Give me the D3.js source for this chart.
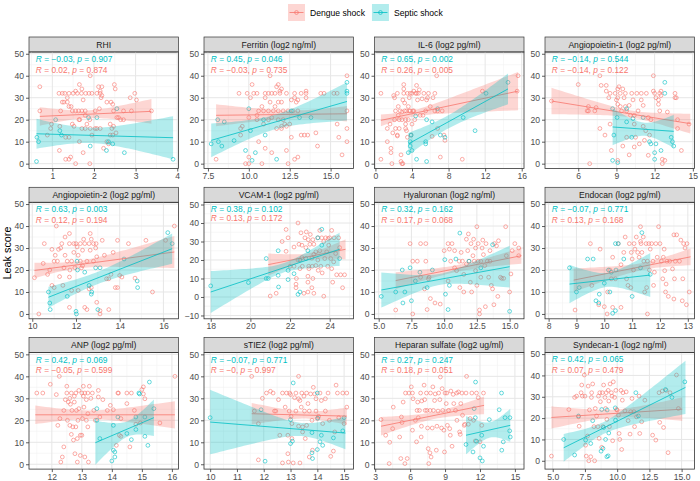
<!DOCTYPE html>
<html>
<head>
<meta charset="utf-8">
<script src="https://cdn.jsdelivr.net/npm/d3@7"></script>
<style>
  body { margin: 0; background: #fff; }
  text { font-family: "Liberation Sans", Arial, Helvetica, sans-serif; }
</style>
</head>
<body>
<div id="chart"></div>
<script>
// ---- panel labels, axes, stats ----
const titles = ['RHI', 'Ferritin (log2 ng/ml)', 'IL-6 (log2 pg/ml)', 'Angiopoietin-1 (log2 pg/ml)',
  'Angiopoietin-2 (log2 pg/ml)', 'VCAM-1 (log2 pg/ml)', 'Hyaluronan (log2 ng/ml)', 'Endocan (log2 pg/ml)',
  'ANP (log2 pg/ml)', 'sTIE2 (log2 pg/ml)', 'Heparan sulfate (log2 ug/ml)', 'Syndecan-1 (log2 ng/ml)'];
const xDomains = [[0.44, 4.03], [7.26, 16.4], [-0.1, 16.25], [3.39, 15.13],
  [9.85, 16.69], [17.66, 25.2], [4.68, 16.1], [7.87, 13.24],
  [11.24, 16.22], [9.77, 15.35], [2.94, 15.78], [4.4, 16.0]];
const yDomains = [[-2.2, 50.8], [-2.2, 50.8], [-2.2, 50.8], [-2.2, 50.8],
  [-2.2, 50.8], [-11.8, 51.2], [-2.2, 50.8], [-2.2, 50.8],
  [-2.2, 50.8], [-2.2, 50.8], [-2.2, 50.8], [-3.9, 50.7]];
const xTicks = [[1, 2, 3, 4], [7.5, 10, 12.5, 15], [0, 4, 8, 12, 16], [6, 9, 12, 15],
  [10, 12, 14, 16], [18, 20, 22, 24], [5, 7.5, 10, 12.5, 15], [8, 9, 10, 11, 12, 13],
  [12, 13, 14, 15, 16], [10, 11, 12, 13, 14, 15], [3, 6, 9, 12, 15], [5, 7.5, 10, 12.5, 15]];
const yTicks = [-10, 0, 10, 20, 30, 40, 50];
const septicStats = [['−0.03', '0.907'], ['0.45', '0.046'], ['0.65', '0.002'], ['−0.14', '0.544'],
  ['0.63', '0.003'], ['0.38', '0.102'], ['0.32', '0.162'], ['−0.07', '0.771'],
  ['0.42', '0.069'], ['−0.07', '0.771'], ['0.27', '0.247'], ['0.42', '0.065']];
const dengueStats = [['0.02', '0.874'], ['−0.03', '0.735'], ['0.26', '0.005'], ['−0.14', '0.122'],
  ['0.12', '0.194'], ['0.13', '0.172'], ['0.17', '0.068'], ['0.13', '0.168'],
  ['−0.05', '0.599'], ['−0', '0.997'], ['0.18', '0.051'], ['0.07', '0.479']];

// regression fits: [x0, y0, x1, y1, halfwidth left, min halfwidth, halfwidth right]
const dengueFits = [[0.7, 21.5, 3.38, 23.8, 4.2, 1.7, 5.6], [8.0, 22.0, 16.0, 22.7, 5, 1.8, 3.5],
  [0.6, 19.7, 15.6, 33.0, 2.7, 1.4, 8.7], [3.9, 28.5, 14.8, 18.2, 6.0, 1.6, 4.5],
  [10.1, 19.8, 16.5, 28.2, 3.5, 1.6, 7.3], [20.9, 17.5, 24.8, 25.8, 6.0, 1.8, 5.4],
  [6.3, 15.2, 15.9, 26.5, 3.8, 1.5, 3.6], [8.9, 15.4, 13.1, 26.0, 5.3, 1.6, 3.8],
  [11.45, 22.5, 16.1, 22.5, 4.2, 2.0, 6.2], [11.55, 23.0, 15.1, 21.9, 4.9, 1.6, 3.9],
  [3.5, 17.3, 12.35, 26.8, 4.2, 1.6, 4.0], [4.9, 20.3, 15.05, 24.2, 5.2, 1.8, 5.5]];
const septicFits = [[0.62, 13.6, 3.9, 11.8, 6.8, 3.5, 9.8], [7.7, 10.6, 16.0, 28.3, 7.7, 3.3, 8.7],
  [3.6, 9.0, 14.5, 34.0, 5.0, 3.0, 7.0], [8.7, 16.7, 13.5, 14.7, 8.3, 3.0, 7.5],
  [10.74, 7.6, 16.4, 29.7, 4.8, 2.8, 6.9], [18.0, 2.7, 24.5, 25.8, 11.3, 2.5, 9.0],
  [5.2, 10.9, 15.0, 21.5, 8.0, 2.5, 9.5], [8.75, 13.6, 11.65, 17.7, 8.7, 3.2, 10],
  [13.45, 9.8, 15.4, 21.2, 10, 3.5, 8.3], [10.0, 19.2, 15.05, 14.2, 14.7, 3.0, 7.4],
  [10.8, 13.2, 14.6, 17.7, 8.7, 3.5, 7.5], [5.85, 6.1, 15.3, 34.4, 6.5, 2.8, 12.5]];

// ---- points [x, leak score] ----
const rhiDengue = [[0.7,35],[0.7,24],[0.88,13],[0.96,16],[0.98,18],[1.17,6],[1.18,17],[1.16,32],[1.24,32],[1.3,32],[1.4,32],[1.5,32],[1.6,32],[1.7,32],[1.8,32],[1.88,32],
  [1.24,28],[1.28,28],[1.36,28],[1.4,26],[1.45,26],[1.2,24],[1.48,24],[1.56,24],[1.63,24],[1.71,24],[1.79,24],[1.36,30],[1.65,36],[1.71,34],[1.56,33],
  [1.64,20],[1.66,20],[1.9,20],[1.79,22],[1.32,12],[1.4,12],[1.32,2],[1.4,2],[1.44,3],[1.56,0],[1.9,0],[1.48,18],[1.83,18],[1.52,17],[1.74,5],[1.65,10],[1.91,40],[1.74,29],
  [1.71,16],[1.79,16],[1.91,16],[2.03,16],[2.07,16],[2.15,16],[2.43,16],[1.95,13],[2.39,13],[2.23,7],[1.95,32],[2.07,32],[2.15,32],[2.11,35],[2.49,36],[2.19,31],[2.15,33],[2.17,30],[2.31,28],[2.41,28],[2.45,27],
  [2.03,24],[2.47,24],[2.71,24],[2.13,25],[2.55,21],[2.59,21],[2.64,20],[2.71,20],[2.39,18],[2.47,17],[2.53,14],[2.31,10],[2.35,9],[2.51,34],[2.19,35],[2.87,30],[2.98,32],[3.02,29],[2.9,24],[3.38,24],[2.45,13]];
const rhiSeptic = [[0.62,1],[0.63,12],[0.67,10],[1.08,20],[1.18,15],[1.22,13],[1.87,21],[1.91,8],[2.07,21],[2.35,10],[2.55,25],[2.3,6],[2.73,5],[3.9,2],[2.45,9]];

const ferritinDengue = [[8.0,2],[9.4,32],[9.5,13],[9.5,16],[9.6,17],[9.8,0],[9.9,32],[10.2,36],[10.1,30],[10.3,32],[10.0,3],[10.8,0],
  [10.5,32],[11.0,32],[11.2,32],[11.4,32],[11.6,32],[11.9,32],[12.3,32],[12.8,32],[13.2,32],[13.5,32],[14.4,32],[14.6,32],
  [10.6,24],[10.9,24],[11.2,24],[11.5,24],[11.8,24],[12.1,24],[12.4,24],[12.7,24],[13.0,24],
  [11.3,28],[11.8,28],[12.0,28],[12.9,28],[11.0,30],[12.8,30],[13.5,30],[11.3,40],[11.8,36],[11.7,35],[12.0,34],[11.9,33],[13.5,33],
  [10.8,26],[11.6,26],[10.5,22],[10.0,21],[11.4,21],[10.5,20],[11.2,20],[11.8,20],[12.1,20],[10.9,18],[12.2,18],[12.5,18],[15.4,18],
  [12.0,17],[12.3,17],[11.7,16],[12.0,16],[16.0,16],[14.1,14],[13.2,13],[13.4,13],[13.6,13],[12.6,12],[15.5,12],[10.6,10],[16.0,10],[14.2,8],[11.0,7],[12.3,6],[11.4,5],[15.7,4],[13.0,3],[12.8,2],[10.0,0],[12.4,0],[16.0,24],[16.0,40],[15.2,32],[15.4,32],[13.0,29],[12.6,29]];
const ferritinSeptic = [[7.7,9],[8.1,20],[8.14,10],[8.35,8],[8.5,19],[9.1,10.5],[9.8,6],[10.0,25],[10.1,15],[10.2,1.5],[10.4,5],[11.0,13],[10.9,20],[11.7,2],[12.6,24],[13.1,21],[13.8,21],[16.0,37],[16.0,32],[16.0,33]];

const il6Dengue = [[0.6,32],[0.6,2],[1.3,16],[1.3,10],[1.6,18],[1.7,5],[1.8,0],[1.9,14],[1.7,7],[2.0,31],[2.1,30],[2.1,20],[2.2,16],[2.4,12.6],[2.4,13],[2.4,32],[2.5,26],[2.5,22],[2.6,20],[2.7,24],[2.8,4],[2.8,1],[2.9,0],[2.9,23.5],
  [3.0,29],[3.1,32],[3.1,36],[3.1,34],[3.2,27.6],[3.2,24],[3.3,18],[3.3,16],[3.3,20],[3.4,15],[3.5,32],[3.5,12],[3.6,26],[3.7,24],[3.7,30],[3.8,32],[3.9,13],[4.0,32],[4.1,24],[4.2,33],[4.3,20],[4.4,32],[4.5,35.6],[4.5,32],[4.6,29],[4.7,32],[4.8,33.6],[4.9,22],
  [5.1,29.5],[5.2,22],[5.3,32],[5.5,24],[5.6,29],[5.7,30],[5.8,32],[6.0,26],[6.2,12.4],[6.3,30],[6.5,32],[6.5,24],[6.7,40],[6.8,24],[6.8,16],[7.1,3],[7.3,24],[7.5,13],[7.6,10.6],[9.5,2],[11.7,33],[15.5,33],[15.6,40],
  [3.0,0],[2.2,24],[2.9,20],[3.6,20],[4.2,24],[2.6,16],[3.4,24],[4.0,18],[3.8,24]];
const il6Septic = [[3.6,5],[3.8,8],[3.8,10],[3.9,13],[4.0,6],[4.4,21.7],[4.5,2],[5.6,1],[5.6,20],[5.5,10],[5.5,9],[6.2,19],[6.8,25],[7.1,13],[7.6,12],[9.6,21],[10.9,15],[12.1,32],[14.5,37]];

const ang1Dengue = [[3.9,28.5],[6.0,36],[6.7,24],[6.8,26],[6.8,24],[6.9,0],[7.3,24],[7.4,25.5],[7.7,16],[7.8,35.6],[8.1,13],[7.7,40],[8.2,35.6],[8.2,33],[8.4,30],[8.5,32],[8.5,18],[8.6,6],[8.9,32],[9.0,29],[9.1,34],[9.1,30],[9.1,27],[9.1,1.5],
  [9.2,35],[9.3,32],[9.3,26],[9.4,24],[9.5,34],[9.5,8],[9.6,30],[9.7,32],[9.7,26],[9.8,12],[9.8,24],[10.0,4],[10.0,26.5],[10.1,22],[10.2,32],[10.3,29],[10.4,22],[10.4,18],[10.4,7.6],[10.6,32],[10.7,24],[10.8,9],[10.95,32],[10.95,29],
  [11.1,26.5],[11.1,17],[11.2,10.6],[11.3,15],[11.35,32],[11.5,21],[11.5,3.8],[11.6,13],[11.7,20],[11.9,40],[11.9,33],[12.0,32],[12.1,30],[12.3,27],[12.3,29],[12.4,24],[12.4,32],[12.5,31],[12.5,33],[12.6,2],[12.6,0],[12.8,1.5],
  [13.0,23.5],[13.6,32],[13.6,30],[13.7,30],[13.8,16],[13.8,20],[14.1,6],[14.7,18],[10.5,12]];
const ang1Septic = [[8.7,25],[8.8,13],[8.7,1.5],[9.05,21],[9.1,0.5],[9.8,25],[9.8,19],[10.2,12],[10.3,20.5],[11.1,21],[11.6,10],[11.7,9],[12.0,5],[12.0,2],[12.1,9],[12.8,37],[12.5,6],[13.3,12],[13.4,10],[13.5,8],[12.8,32]];

const ang2Dengue = [[10.1,16.5],[10.3,0],[10.5,23],[10.55,32],[10.7,18],[10.8,20],[10.9,29.4],[10.9,13],[11.0,12],[11.0,24],[11.05,26.7],[11.1,40],[11.15,24],[11.2,29.4],[11.25,17],[11.3,30],[11.35,32],[11.4,13],[11.45,21],[11.5,26.7],[11.5,35],
  [11.6,24],[11.7,32],[11.7,36.6],[11.7,3],[11.7,16.8],[11.72,20],[11.8,10.7],[11.8,24],[11.9,32],[11.9,28],[11.95,21],[12.0,32],[12.05,30.5],[12.1,10.7],[12.1,26.7],[12.2,32],[12.2,24],[12.25,21],[12.3,22],[12.3,29],[12.35,34],[12.4,32],[12.4,3],[12.5,2],
  [12.5,24],[12.6,11.4],[12.6,32],[12.65,29],[12.65,36.6],[12.7,34],[12.7,12],[12.8,24],[12.8,32],[12.9,30],[12.92,32],[12.95,5.3],[12.95,26],[13.1,1.5],[13.1,0],[13.2,33.5],[13.3,26.7],[13.4,16],[13.5,2],[13.5,16],[13.6,18],[13.7,28],[13.9,33.5],[13.8,12],[13.9,12],
  [14.0,17.5],[14.4,32],[14.7,16.3],[15.2,33.5],[15.5,10],[16.1,33.5],[16.5,40],[14.1,16.8]];
const ang2Septic = [[10.74,10],[10.8,5],[10.82,2],[11.6,8],[12.0,1.2],[12.02,0],[12.05,24],[12.07,20],[12.4,19],[12.6,13],[12.7,9],[12.72,10],[12.9,21],[13.1,21],[13.0,2],[14.2,25],[14.8,15],[14.82,12],[16.2,37],[16.4,32]];

const vcamDengue = [[21.0,0.5],[21.3,2],[21.6,30],[21.8,36.5],[21.8,24.7],[21.9,32],[22.2,16.6],[22.3,5],[22.3,6.9],[22.32,10],[22.4,40],[22.45,28.5],[22.5,15.3],[22.55,34.7],[22.6,28],[22.62,16.6],[22.7,2],[22.75,32],[22.8,26.7],[22.82,35.2],[22.9,11.2],[22.9,2.7],[22.92,31],[22.94,16.6],
  [23.0,28.5],[23.02,33.8],[23.1,21],[23.1,5],[23.12,16.6],[23.15,31],[23.15,10],[23.2,28.5],[23.2,2],[23.3,24.4],[23.3,17],[23.4,20],[23.4,32],[23.42,14.4],[23.5,36],[23.5,25],[23.55,16.6],[23.6,32],[23.62,13],[23.7,0.4],[23.7,30],[23.75,20.8],[23.8,32],[23.85,24.4],
  [23.9,16.6],[23.92,31.6],[23.95,28],[24.0,32],[24.05,20.8],[24.1,15.3],[24.1,36],[24.15,8],[24.2,19],[24.22,32],[24.3,23.5],[24.35,12],[24.45,32],[24.5,26.7],[24.55,12],[24.65,5],[24.75,12],[22.6,21.3],[22.2,27],[22.4,20],[22.95,15.3],[23.2,23],[22.0,16.6],[22.9,8]];
const vcamSeptic = [[18.0,6],[19.9,7.8],[20.8,20.8],[20.8,10],[20.9,10],[21.4,25],[21.4,11.7],[21.42,5.4],[21.9,9.4],[21.9,14.4],[22.2,12.6],[22.4,1.4],[22.5,2.7],[22.5,20],[22.8,20.8],[22.9,25],[23.4,32],[23.6,36.6],[23.6,28],[24.5,20.8]];

const hyalDengue = [[6.3,1.8],[7.4,32],[7.6,24],[7.6,0],[7.95,24],[8.2,16.7],[8.2,32],[8.5,11.4],[8.6,24],[8.6,32],[8.7,2],[8.8,16],[8.85,16.7],[8.95,7],[9.3,5],[9.7,4.5],[10.0,28.8],[10.3,15],[10.3,32],[10.4,29.5],[10.5,24],[10.6,32],[10.8,28.8],[10.8,21],[10.95,19.7],
  [11.15,24],[11.2,12],[11.3,28],[11.4,24],[11.5,10],[11.5,18],[11.7,34],[11.7,22.7],[11.8,28.8],[11.85,36.4],[11.9,24],[12.0,14.4],[12.05,32],[12.1,10],[12.2,26.5],[12.25,34],[12.3,24],[12.4,19.7],[12.4,30],[12.5,13],[12.5,39.7],[12.6,24],[12.6,32],[12.7,1.8],[12.7,0],
  [12.8,24],[12.8,16.7],[12.9,30],[12.95,33.6],[13.0,27],[13.1,22],[13.15,3.3],[13.2,32],[13.3,24],[13.4,16.7],[13.5,24],[13.5,28.8],[13.6,13],[13.7,11.4],[13.8,4.2],[13.85,32],[14.0,31],[14.1,8],[14.15,33.3],[14.3,16.7],[14.4,16.2],[14.55,16.2],[14.7,39.7],[14.75,26.5],[15.0,10],[15.1,18.2],[15.2,28.8],[15.4,32],[15.7,30],[15.7,26.5]];
const hyalSeptic = [[5.2,8],[6.3,10],[6.8,20],[6.85,5],[7.0,10],[7.4,21],[7.5,6],[7.8,15],[8.15,19],[8.7,12],[9.1,20],[10.05,24.7],[10.1,9],[10.3,2],[10.4,13],[10.9,25],[11.2,36.8],[11.9,24],[12.8,21],[13.7,31.5],[15.0,1.2]];

const endoDengue = [[8.95,1.8],[9.5,32],[9.55,13],[9.8,4.2],[9.85,29.5],[10.0,3.3],[10.1,0],[10.12,10],[10.2,20],[10.25,16],[10.3,3],[10.3,25.8],[10.4,16],[10.5,32],[10.6,22.4],[10.6,3],[10.7,28],[10.75,35],[10.8,16],[10.85,13],[10.9,32],[10.95,12],[10.97,28],[11.0,25],[11.05,20],[11.07,32],
  [11.1,29.5],[11.15,35],[11.2,28],[11.25,25.8],[11.3,33],[11.32,32],[11.3,39.7],[11.35,28],[11.4,35],[11.42,24],[11.45,10],[11.5,32],[11.52,12],[11.55,24],[11.55,0],[11.6,32],[11.62,20],[11.65,29.5],[11.7,32],[11.75,24],[11.77,13],[11.8,19],[11.85,32],[11.9,25.8],[11.95,39.7],
  [12.0,32],[12.05,24],[12.1,16],[12.12,25.8],[12.15,29.5],[12.17,19.7],[12.2,10],[12.22,13.6],[12.25,24],[12.3,8],[12.35,24],[12.45,20.5],[12.5,6.8],[12.5,36],[12.52,16],[12.55,24],[12.6,36],[12.7,24],[12.75,33.6],[12.8,6],[12.82,16],[12.85,32],[12.9,30],[12.95,4.2],[12.97,32],[13.05,10]];
const endoSeptic = [[8.75,21],[9.0,10],[9.1,12],[9.4,25],[9.6,25],[9.7,6],[9.8,5],[9.82,9],[10.0,14],[10.15,20],[10.2,10],[10.25,19],[10.3,0.3],[10.4,1.5],[10.42,20],[10.4,32],[10.5,32],[10.7,25],[11.0,8],[11.3,21],[11.35,37],[11.65,18]];

const anpDengue = [[11.5,32.4],[11.7,32.4],[11.95,36.4],[12.15,31.7],[12.2,17.7],[12.25,40],[12.27,20.8],[12.3,1],[12.35,3.3],[12.4,7.9],[12.4,24.5],[12.45,29.4],[12.5,32.4],[12.52,20],[12.5,35.5],[12.55,28.3],[12.6,17.7],[12.6,30],[12.62,27.3],[12.65,13.6],[12.65,32.4],[12.67,24.5],[12.7,17],[12.72,11],
  [12.75,31],[12.75,28.3],[12.77,4.8],[12.8,17],[12.8,32.4],[12.82,24.5],[12.85,11.7],[12.85,1],[12.87,20],[12.9,33.6],[12.9,25.3],[12.95,13.2],[12.95,4],[13.0,13.2],[13.0,32.4],[13.02,20.8],[13.05,31],[13.05,35.5],[13.07,26],[13.1,32.4],[13.1,3.3],[13.15,20],[13.15,29.4],[13.2,17],[13.2,32.4],[13.22,1],[13.2,23],[13.25,35.5],
  [13.3,30],[13.35,32.4],[13.4,24.5],[13.45,20],[13.55,33.6],[13.55,30.6],[13.6,21.5],[13.7,29.4],[13.85,24.5],[13.95,26.8],[14.05,24.8],[14.15,8.6],[14.2,32.4],[14.22,32.4],[14.25,13.2],[14.3,12.7],[14.3,20.8],[14.5,27.6],[14.5,32.4],[14.6,7.9],[14.65,32.4],[14.75,24.5],[14.8,18.2],[14.95,18.8],[15.0,34],[15.05,35.2],[15.05,32],[15.1,29.8],[15.6,18.8],[16.1,40]];
const anpSeptic = [[13.5,25.3],[13.5,20],[13.6,11.7],[14.05,17.7],[14.05,6.4],[14.1,5.6],[14.0,1.5],[14.1,3.3],[14.2,21.5],[14.5,14],[14.8,21.5],[14.9,32.4],[14.92,32],[15.1,21.5],[15.1,12.7],[15.2,8.6],[15.25,37.4],[15.4,25.3],[14.8,15.8],[14.65,11.2]];

const stieDengue = [[11.55,40],[11.65,24.2],[11.8,18.5],[11.8,2],[11.95,30],[12.1,32.4],[12.25,33.2],[12.35,32.4],[12.4,24.2],[12.45,24.2],[12.55,29.4],[12.6,13.2],[12.7,32.4],[12.7,0.6],[12.8,26],[12.85,32.4],[12.9,13.2],[12.9,4.8],[12.92,1],[12.95,24.2],[12.97,32.4],[13.0,31.7],[13.02,21.8],[13.05,11.7],[13.05,18.5],[13.1,0.6],
  [13.15,30.3],[13.2,32.4],[13.2,24.2],[13.3,29.8],[13.3,17.3],[13.3,40],[13.35,0.6],[13.35,29],[13.4,26],[13.42,32.4],[13.45,17],[13.45,14.7],[13.5,31],[13.52,24.2],[13.55,11.7],[13.6,32.4],[13.6,17.7],[13.65,27.6],[13.7,24.2],[13.7,3.3],[13.75,32],[13.8,20],[13.82,6.4],[13.85,35],
  [13.9,32],[13.95,24.2],[13.95,29.8],[14.0,20.8],[14.05,21.8],[14.1,32.4],[14.15,29],[14.2,18.5],[14.3,24.2],[14.3,29.8],[14.4,32.4],[14.45,20],[14.5,3.6],[14.6,6],[14.65,14.7],[14.7,36],[14.75,32.4],[14.8,21.2],[15.0,18.5],[15.1,26],[15.1,32.4],[14.95,32.4]];
const stieSeptic = [[10.0,21.2],[11.9,24.8],[12.05,1.4],[13.0,20.3],[13.0,9.4],[13.1,37],[13.07,10.5],[13.8,5.2],[13.82,2.6],[13.8,14.4],[14.0,32.4],[14.02,21],[14.1,10.2],[14.0,6.7],[14.2,8.6],[14.15,13.2],[14.6,12],[14.95,15.2],[15.0,21.2]];

const hepDengue = [[3.5,20.3],[3.9,13.2],[4.25,10],[4.2,0.3],[4.55,26],[4.5,16.2],[5.1,12.4],[5.2,2.6],[5.25,21.5],[5.3,19],[5.4,28.3],[5.55,0.3],[5.6,32.4],[5.75,2.6],[5.9,32.4],[6.1,35.2],[6.2,32.4],[6.2,15.5],[6.25,29.8],[6.45,20],[6.55,10.2],[6.6,24.5],[6.65,28.3],[6.7,21.2],[6.8,24.5],[6.9,32.4],[6.95,12.4],[6.97,17.3],[7.0,28.8],
  [7.2,36],[7.25,29.4],[7.3,24.5],[7.4,32.4],[7.45,24.5],[7.5,16.5],[7.55,7.1],[7.6,0.3],[7.7,5.2],[7.72,24.5],[7.75,32.4],[7.8,3.3],[7.9,16.5],[7.95,35.2],[8.0,24.5],[8.1,29],[8.15,32],[8.25,6.4],[8.3,17.3],[8.4,24.2],[8.45,32.4],[8.55,29.4],[8.6,39.7],[8.7,16.5],[8.75,34.4],[8.8,24.5],[8.9,15.5],[8.95,5.6],
  [9.0,32.4],[9.1,27.6],[9.15,32.4],[9.2,17.7],[9.3,24.5],[9.4,16.2],[9.45,13.2],[9.5,33.3],[9.6,8.2],[9.7,31.8],[9.75,27.6],[9.9,24.5],[10.0,32.4],[10.02,20],[10.15,32.9],[10.25,14.7],[10.3,13.6],[10.35,27.6],[10.45,32.4],[10.5,22.3],[10.65,17.7],[10.7,18.2],[10.8,32.4],[10.85,40],[11.0,18.2],[11.15,20.8],[11.3,32.4],[11.45,20],[11.6,10.6],[11.7,32.4],[11.85,30.3],[12.0,10.2],[12.15,17.7],[12.3,32.4]];
const hepSeptic = [[10.8,9],[11.4,5.6],[11.5,25.3],[11.6,21.2],[11.62,37.4],[11.7,10.5],[12.0,2.9],[12.2,1.5],[12.15,13.2],[12.3,8.2],[12.8,20.3],[13.65,24.8],[13.85,32.4],[13.87,6.4],[14.0,10.2],[14.15,21.2],[14.55,15.2],[14.57,21.2],[14.6,12.4]];

const syndDengue = [[4.9,2.2],[6.25,24],[6.7,29.7],[6.85,30.3],[7.0,20.6],[7.05,16.2],[7.2,31.9],[7.25,35.5],[7.3,30.3],[7.45,40.2],[7.5,30.3],[7.55,7.3],[7.6,2.2],[7.7,11.6],[7.75,35],[7.8,0],[7.85,23.8],[7.95,1.9],[8.0,29.7],[8.02,31.9],[8.1,36],[8.2,16],[8.25,0],[8.3,24.5],[8.4,21],[8.5,16],[8.55,30.3],[8.6,10.5],
  [8.65,31.9],[8.7,27.7],[8.8,6.3],[8.85,31.9],[8.9,16],[8.95,35.5],[9.05,29.7],[9.1,24.5],[9.15,31.9],[9.2,19.4],[9.3,33],[9.35,28],[9.4,16],[9.45,36],[9.55,31.9],[9.6,30.3],[9.65,9.4],[9.7,37],[9.8,29.7],[9.9,33],[9.95,24],[10.0,23.8],[10.1,21.4],[10.15,12.8],[10.2,10],[10.3,33],[10.35,5.3],[10.4,28.4],[10.45,31.9],
  [10.6,23.4],[10.7,32.3],[10.85,18.8],[11.0,12.5],[11.05,23],[11.15,29.2],[11.3,23],[11.35,16],[11.5,20.6],[11.7,30.3],[11.75,12.8],[11.9,18.3],[12.15,28.4],[12.75,12],[13.0,9.7],[13.25,31.9],[13.3,18],[13.5,32.7],[13.6,15.6],[13.8,33],[13.95,3.8],[14.1,31.9],[14.6,40.2],[14.75,24.5]];
const syndSeptic = [[5.85,10],[6.7,2.7],[7.0,21],[7.55,9.7],[7.95,8.1],[8.1,18.8],[8.75,4.5],[8.8,24],[8.9,5.8],[8.95,15.6],[9.1,10],[9.2,1.9],[9.3,2.3],[9.22,23.8],[9.35,13],[9.85,24.8],[9.87,19],[11.45,31.9],[11.65,21],[13.75,33.4],[14.25,29.7],[15.25,37]];

const dengueData = [rhiDengue, ferritinDengue, il6Dengue, ang1Dengue, ang2Dengue, vcamDengue, hyalDengue, endoDengue, anpDengue, stieDengue, hepDengue, syndDengue];
const septicData = [rhiSeptic, ferritinSeptic, il6Septic, ang1Septic, ang2Septic, vcamSeptic, hyalSeptic, endoSeptic, anpSeptic, stieSeptic, hepSeptic, syndSeptic];
const groups = ['Dengue shock', 'Septic shock'];

// ---- layout ----
const width = 700, height = 481;
const colLeft = [29, 204, 374.5, 545];
const rowTop = [37, 187.3, 337.6];
const panelW = 149.5, panelH = 116.5, stripH = 15;
const red = '#F8766D', cyan = '#00BFC4';
const fontSmall = 8.6;

var svg = d3.select('#chart').append('svg')
  .attr('width', width)
  .attr('height', height);

svg.append('rect').attr('width', width).attr('height', height).attr('fill', '#fff');

// confidence band along the fit (hyperbola shaped like lm standard error)
function bandPoints(f) {
  const [x0, y0, x1, y1, hL, h0, hR] = f;
  const slope = (y1 - y0) / (x1 - x0);
  const a = Math.sqrt(Math.max(hL * hL - h0 * h0, 0.0001));
  const b = Math.sqrt(Math.max(hR * hR - h0 * h0, 0.0001));
  const xc = (x0 * b + x1 * a) / (a + b);
  const k = a / Math.max(xc - x0, 1e-6);
  return d3.range(41).map(i => {
    const x = x0 + (x1 - x0) * i / 40;
    const yy = y0 + slope * (x - x0);
    const hw = Math.sqrt(h0 * h0 + k * k * (x - xc) * (x - xc));
    return { x: x, lo: yy - hw, hi: yy + hw };
  });
}

function drawPanel(i) {
  const left = colLeft[i % 4];
  const top = rowTop[Math.floor(i / 4)] + stripH;
  const x = d3.scaleLinear().domain(xDomains[i]).range([0, panelW]);
  const y = d3.scaleLinear().domain(yDomains[i]).range([panelH, 0]);

  // strip
  svg.append('rect')
    .attr('x', left).attr('y', top - stripH)
    .attr('width', panelW).attr('height', stripH)
    .attr('fill', '#D9D9D9').attr('stroke', '#333333').attr('stroke-width', 0.7);
  svg.append('text')
    .attr('x', left + panelW / 2).attr('y', top - stripH / 2)
    .attr('text-anchor', 'middle').attr('dominant-baseline', 'central')
    .attr('font-size', fontSmall).attr('fill', '#1A1A1A')
    .text(titles[i]);

  const g = svg.append('g').attr('transform', `translate(${left},${top})`);
  g.append('clipPath').attr('id', 'clip' + i)
    .append('rect').attr('width', panelW).attr('height', panelH);
  const inner = g.append('g').attr('clip-path', `url(#clip${i})`);

  // grid
  const xt = xTicks[i];
  const step = xt[1] - xt[0];
  const xMinor = d3.range(-1, xt.length).map(j => xt[0] + step * (j + 0.5))
    .filter(v => v > xDomains[i][0] && v < xDomains[i][1]);
  const yMajor = yTicks.filter(v => v >= yDomains[i][0] && v <= yDomains[i][1]);
  const yMinor = yTicks.map(v => v + 5).concat([-15, -5])
    .filter(v => v > yDomains[i][0] && v < yDomains[i][1]);

  inner.selectAll('.xminor').data(xMinor).enter().append('line')
    .attr('x1', d => x(d)).attr('x2', d => x(d)).attr('y1', 0).attr('y2', panelH)
    .attr('stroke', '#F2F2F2').attr('stroke-width', 0.6);
  inner.selectAll('.yminor').data(yMinor).enter().append('line')
    .attr('y1', d => y(d)).attr('y2', d => y(d)).attr('x1', 0).attr('x2', panelW)
    .attr('stroke', '#F2F2F2').attr('stroke-width', 0.6);
  inner.selectAll('.xmajor').data(xt).enter().append('line')
    .attr('x1', d => x(d)).attr('x2', d => x(d)).attr('y1', 0).attr('y2', panelH)
    .attr('stroke', '#E6E6E6').attr('stroke-width', 1);
  inner.selectAll('.ymajor').data(yMajor).enter().append('line')
    .attr('y1', d => y(d)).attr('y2', d => y(d)).attr('x1', 0).attr('x2', panelW)
    .attr('stroke', '#E6E6E6').attr('stroke-width', 1);

  // points
  [[dengueData[i], red], [septicData[i], cyan]].forEach(([pts, col]) => {
    inner.append('g').selectAll('circle').data(pts).enter().append('circle')
      .attr('cx', d => x(d[0])).attr('cy', d => y(d[1]))
      .attr('r', 1.9)
      .attr('fill', 'none').attr('stroke', col).attr('stroke-width', 0.6);
  });

  // bands and fitted lines
  const area = d3.area().x(d => x(d.x)).y0(d => y(d.lo)).y1(d => y(d.hi));
  [[dengueFits[i], red], [septicFits[i], cyan]].forEach(([f, col]) => {
    inner.append('path').datum(bandPoints(f))
      .attr('d', area).attr('fill', col).attr('fill-opacity', 0.3);
    inner.append('line')
      .attr('x1', x(f[0])).attr('y1', y(f[1]))
      .attr('x2', x(f[2])).attr('y2', y(f[3]))
      .attr('stroke', col).attr('stroke-width', 0.8);
  });

  // correlation labels
  [[septicStats[i], cyan, 47.6], [dengueStats[i], red, 42.7]].forEach(([s, col, ly]) => {
    const t = g.append('text')
      .attr('x', panelW / 22).attr('y', y(ly))
      .attr('dominant-baseline', 'central')
      .attr('font-size', 8.4).attr('fill', col);
    t.append('tspan').attr('font-style', 'italic').text('R');
    t.append('tspan').text(` = ${s[0]}, `);
    t.append('tspan').attr('font-style', 'italic').text('p');
    t.append('tspan').text(` = ${s[1]}`);
  });

  // border
  g.append('rect').attr('width', panelW).attr('height', panelH)
    .attr('fill', 'none').attr('stroke', '#333333').attr('stroke-width', 0.8);

  // axes
  const fmt = xt.some(v => v % 1 !== 0) ? d3.format('.1f') : d3.format('d');
  const xAxis = g.append('g').attr('transform', `translate(0,${panelH})`)
    .call(d3.axisBottom(x).tickValues(xt).tickFormat(fmt).tickSize(3).tickPadding(1.5));
  const yAxis = g.append('g')
    .call(d3.axisLeft(y).tickValues(yMajor).tickFormat(d3.format('d')).tickSize(3).tickPadding(2));
  [xAxis, yAxis].forEach(ax => {
    ax.select('.domain').remove();
    ax.selectAll('line').attr('stroke', '#333333').attr('stroke-width', 0.8);
    ax.selectAll('text').attr('fill', '#4D4D4D').attr('font-size', fontSmall)
      .attr('font-family', '"Liberation Sans", Arial, Helvetica, sans-serif');
  });
}

titles.forEach((t, i) => drawPanel(i));

// y axis title
svg.append('text')
  .attr('transform', 'translate(11,253) rotate(-90)')
  .attr('text-anchor', 'middle')
  .attr('font-size', 10.8).attr('fill', '#000')
  .text('Leak score');

// legend
var legendX = 288;
groups.forEach((name, k) => {
  const col = k === 0 ? red : cyan;
  const lg = svg.append('g').attr('transform', `translate(${legendX},4)`);
  lg.append('rect').attr('width', 17).attr('height', 17)
    .attr('fill', col).attr('fill-opacity', 0.3);
  lg.append('line').attr('x1', 1.5).attr('x2', 15.5).attr('y1', 8.5).attr('y2', 8.5)
    .attr('stroke', col).attr('stroke-width', 0.8);
  lg.append('circle').attr('cx', 8.5).attr('cy', 8.5).attr('r', 1.9)
    .attr('fill', 'none').attr('stroke', col).attr('stroke-width', 0.7);
  const txt = lg.append('text').attr('x', 22).attr('y', 8.5)
    .attr('dominant-baseline', 'central')
    .attr('font-size', fontSmall).attr('fill', '#000')
    .text(name);
  legendX += 22 + txt.node().getComputedTextLength() + 7;
});
</script>
</body>
</html>
